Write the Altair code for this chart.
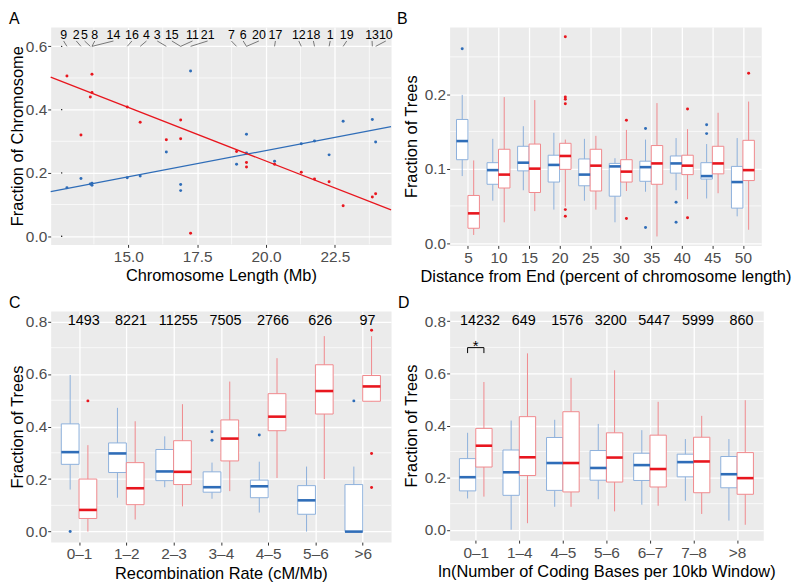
import json
import altair as alt
import pandas as pd

FONT = "Liberation Sans"
BLUE, RED = "#2F6DB8", "#E8161E"
BLUE_L, RED_L = "#8DB0DC", "#F0898D"
SERIES = ["Topology 1", "Topology 2"]
DODGE = 0.1875
HALF = 0.1875

# ---------------- Panel A data ----------------
chrom = ["9", "2", "5", "8", "14", "16", "4", "3", "15", "11", "21",
         "7", "6", "20", "17", "12", "18", "1", "19", "13", "10"]
chrom_len_mb = [12.77, 13.28, 13.62, 13.68, 13.68, 14.96, 15.43, 16.38, 16.90, 16.90, 17.26,
                18.93, 19.29, 19.29, 20.31, 21.28, 21.76, 22.29, 22.80, 23.86, 23.98]
label_pos_mb = [12.65, 13.11, 13.41, 13.78, 14.46, 15.13, 15.66, 16.05, 16.58, 17.33, 17.88,
                18.74, 19.17, 19.74, 20.34, 21.19, 21.72, 22.33, 22.93, 23.85, 24.35]
frac_blue = [0.153, 0.182, 0.165, 0.167, 0.161, 0.185, 0.190, 0.266, 0.163, 0.144, 0.522,
             0.227, 0.322, 0.263, 0.237, 0.292, 0.301, 0.257, 0.363, 0.369, 0.298]
frac_red = [0.506, 0.320, 0.440, 0.512, 0.454, 0.408, 0.360, 0.305, 0.367, 0.308, 0.009,
            0.268, 0.233, 0.219, 0.227, 0.202, 0.181, 0.172, 0.096, 0.124, 0.134]
# fitted trend lines (end points)
fit_len_mb = [12.18, 24.54]
fit_blue = [0.141, 0.346]
fit_red = [0.503, 0.083]
stray_x = [12.58, 12.58, 12.58, 12.58]
stray_y = [0.0, 0.2, 0.4, 0.6]

# ---------------- Panel B data ----------------
b_cats = ["5", "10", "15", "20", "25", "30", "35", "40", "45", "50"]
b_blue_lo = [0.090, 0.057, 0.071, 0.045, 0.057, 0.028, 0.069, 0.071, 0.060, 0.036]
b_blue_q1 = [0.112, 0.079, 0.097, 0.082, 0.077, 0.063, 0.083, 0.094, 0.086, 0.047]
b_blue_med = [0.137, 0.098, 0.108, 0.105, 0.092, 0.103, 0.102, 0.107, 0.090, 0.082]
b_blue_q3 = [0.166, 0.108, 0.130, 0.118, 0.113, 0.107, 0.110, 0.117, 0.108, 0.103]
b_blue_hi = [0.199, 0.140, 0.157, 0.148, 0.140, 0.114, 0.139, 0.141, 0.133, 0.141]
b_red_lo = [0.011, 0.028, 0.043, 0.049, 0.045, 0.070, 0.009, 0.059, 0.067, 0.018]
b_red_q1 = [0.020, 0.074, 0.068, 0.099, 0.070, 0.082, 0.079, 0.092, 0.093, 0.084]
b_red_med = [0.040, 0.092, 0.100, 0.117, 0.104, 0.096, 0.107, 0.104, 0.107, 0.098]
b_red_q3 = [0.064, 0.126, 0.133, 0.134, 0.126, 0.112, 0.131, 0.118, 0.130, 0.138]
b_red_hi = [0.111, 0.196, 0.192, 0.139, 0.144, 0.152, 0.188, 0.153, 0.175, 0.190]
b_out_blue = [("5", 0.261), ("35", 0.021), ("35", 0.154), ("40", 0.055), ("40", 0.028),
              ("45", 0.159), ("45", 0.147)]
b_out_red = [("20", 0.045), ("20", 0.036), ("20", 0.277), ("20", 0.196), ("20", 0.193),
             ("20", 0.187), ("30", 0.033), ("30", 0.165), ("40", 0.034), ("40", 0.180),
             ("50", 0.228)]

# ---------------- Panel C data ----------------
c_cats = ["0\u20131", "1\u20132", "2\u20133", "3\u20134", "4\u20135", "5\u20136", ">6"]
c_counts = ["1493", "8221", "11255", "7505", "2766", "626", "97"]
c_blue_lo = [0.160, 0.129, 0.169, 0.125, 0.0725, 0.0, 0.0]
c_blue_q1 = [0.256, 0.225, 0.194, 0.150, 0.129, 0.066, 0.0]
c_blue_med = [0.3025, 0.2975, 0.229, 0.169, 0.1725, 0.119, 0.0]
c_blue_q3 = [0.410, 0.3375, 0.3125, 0.2275, 0.196, 0.175, 0.179]
c_blue_hi = [0.596, 0.471, 0.3625, 0.2625, 0.266, 0.2475, 0.2475]
c_red_lo = [0.0, 0.046, 0.096, 0.154, 0.204, 0.200, 0.496]
c_red_q1 = [0.050, 0.1025, 0.179, 0.269, 0.384, 0.4475, 0.496]
c_red_med = [0.0825, 0.165, 0.2275, 0.354, 0.4375, 0.535, 0.5525]
c_red_q3 = [0.200, 0.2625, 0.346, 0.425, 0.525, 0.635, 0.594]
c_red_hi = [0.329, 0.420, 0.485, 0.571, 0.660, 0.744, 0.744]
c_out_blue = [("0\u20131", 0.0), ("3\u20134", 0.380), ("3\u20134", 0.3475), ("4\u20135", 0.3675),
              (">6", 0.4975)]
c_out_red = [("0\u20131", 0.4975), (">6", 0.766), (">6", 0.2975), (">6", 0.1675)]

# ---------------- Panel D data ----------------
d_cats = ["0\u20131", "1\u20134", "4\u20135", "5\u20136", "6\u20137", "7\u20138", ">8"]
d_counts = ["14232", "649", "1576", "3200", "5447", "5999", "860"]
d_blue_lo = [0.120, 0.0, 0.088, 0.117, 0.096, 0.111, 0.035]
d_blue_q1 = [0.149, 0.132, 0.151, 0.190, 0.189, 0.203, 0.161]
d_blue_med = [0.2016, 0.2205, 0.256, 0.237, 0.248, 0.2595, 0.213]
d_blue_q3 = [0.273, 0.306, 0.354, 0.304, 0.2935, 0.290, 0.281]
d_blue_hi = [0.372, 0.419, 0.422, 0.406, 0.382, 0.348, 0.348]
d_red_lo = [0.127, 0.025, 0.088, 0.0705, 0.092, 0.0605, 0.019]
d_red_q1 = [0.2406, 0.208, 0.145, 0.183, 0.164, 0.142, 0.136]
d_red_med = [0.3225, 0.278, 0.256, 0.277, 0.233, 0.262, 0.198]
d_red_q3 = [0.389, 0.434, 0.453, 0.372, 0.363, 0.355, 0.296]
d_red_hi = [0.567, 0.677, 0.583, 0.612, 0.491, 0.437, 0.497]
d_signif_cat = "0\u20131"

color_enc = alt.Color("series:N", scale=alt.Scale(domain=SERIES, range=[BLUE, RED]), legend=None)
stroke_enc = alt.Stroke("series:N", scale=alt.Scale(domain=SERIES, range=[BLUE_L, RED_L]), legend=None)


def letter_title(letter, dx):
    return alt.TitleParams(letter, anchor="start", frame="group", dx=dx, offset=0, fontSize=16,
                           fontWeight="normal", font=FONT, color="black")


# ---------------- Panel A ----------------
rowsA = []
for i, c in enumerate(chrom):
    rowsA.append(dict(chrom=c, length=chrom_len_mb[i], series=SERIES[0], frac=frac_blue[i]))
    rowsA.append(dict(chrom=c, length=chrom_len_mb[i], series=SERIES[1], frac=frac_red[i]))
dfA = pd.DataFrame(rowsA)
rowsFit = []
for i, x in enumerate(fit_len_mb):
    rowsFit.append(dict(length=x, series=SERIES[0], frac=fit_blue[i]))
    rowsFit.append(dict(length=x, series=SERIES[1], frac=fit_red[i]))
dfFit = pd.DataFrame(rowsFit)
dfLab = pd.DataFrame({"chrom": chrom, "label_x": label_pos_mb, "length": chrom_len_mb})
dfStray = pd.DataFrame({"sx": stray_x, "sy": stray_y})

xA = alt.Scale(domain=[12.18, 24.54], nice=False, zero=False)
yA = alt.Scale(domain=[-0.026, 0.661], nice=False, zero=False)
axA_x = alt.Axis(title="Chromosome Length (Mb)", values=[15, 17.5, 20, 22.5], format=".1f", grid=True)
axA_y = alt.Axis(title="Fraction of Chromosome", values=[0, 0.2, 0.4, 0.6], format=".1f", grid=True,
                 titlePadding=0, labelPadding=1)


def XA(f):
    return alt.X(f, scale=xA, axis=axA_x)


def YA(f):
    return alt.Y(f, scale=yA, axis=axA_y)


gridA_x = alt.Chart(pd.DataFrame({"g": [13.75, 16.25, 18.75, 21.25, 23.75]})).mark_rule(
    color="white", strokeWidth=0.7).encode(x=XA("g:Q"))
gridA_y = alt.Chart(pd.DataFrame({"g": [0.1, 0.3, 0.5]})).mark_rule(
    color="white", strokeWidth=0.7).encode(y=YA("g:Q"))
ptsA = alt.Chart(dfA).mark_circle(size=9, opacity=1).encode(
    x=XA("length:Q"), y=YA("frac:Q"), color=color_enc)
fitA = alt.Chart(dfFit).mark_line(strokeWidth=1.3).encode(
    x=XA("length:Q"), y=YA("frac:Q"), color=color_enc, detail="series:N")
labA = alt.Chart(dfLab).mark_text(fontSize=12.5, font=FONT, color="black", baseline="middle").encode(
    x=XA("label_x:Q"), y=alt.YDatum(0.637, scale=yA, axis=axA_y), text="chrom:N")
segA = alt.Chart(dfLab).mark_rule(color="#444444", strokeWidth=0.7).encode(
    x=XA("label_x:Q"), x2="length:Q",
    y=alt.YDatum(0.617, scale=yA, axis=axA_y), y2=alt.datum(0.600))
strayA = alt.Chart(dfStray).mark_circle(size=2, color="black", opacity=1).encode(
    x=XA("sx:Q"), y=YA("sy:Q"))

panelA = alt.layer(
    gridA_x, gridA_y, ptsA, fitA, segA, labA, strayA
).properties(width=343, height=219, title=letter_title("A", -42))


# ---------------- Box panels ----------------
def box_panel(cats, blue, red, out_blue, out_red, ydom, ymajor, yminor, xtitle, ytitle,
              w, h, letter, letter_dx, ytp, counts=None, signif_cat=None):
    n = len(cats)
    rows = []
    for s, stats, off in ((SERIES[0], blue, -DODGE), (SERIES[1], red, DODGE)):
        lo, q1, med, q3, hi = stats
        for i in range(n):
            c = i + 1 + off
            rows.append(dict(series=s, center=c, left=c - HALF, right=c + HALF,
                             lo=lo[i], q1=q1[i], med=med[i], q3=q3[i], hi=hi[i]))
    box = pd.DataFrame(rows)
    orows = []
    for s, outs, off in ((SERIES[0], out_blue, -DODGE), (SERIES[1], out_red, DODGE)):
        for cat, v in outs:
            orows.append(dict(series=s, center=cats.index(cat) + 1 + off, v=v))
    outl = pd.DataFrame(orows)

    xs = alt.Scale(domain=[0.4, n + 0.6], nice=False, zero=False)
    ys = alt.Scale(domain=ydom, nice=False, zero=False)
    xax = alt.Axis(title=xtitle, values=list(range(1, n + 1)),
                   labelExpr=json.dumps(cats, ensure_ascii=False) + "[datum.value - 1]", grid=True)
    yax = alt.Axis(title=ytitle, values=ymajor, format=".1f", grid=True, titlePadding=ytp,
                   labelPadding=1)

    def X(f):
        return alt.X(f, scale=xs, axis=xax)

    def Y(f):
        return alt.Y(f, scale=ys, axis=yax)

    base = alt.Chart(box)
    grid = alt.Chart(pd.DataFrame({"g": yminor})).mark_rule(
        color="white", strokeWidth=0.7).encode(y=Y("g:Q"))
    whisk = base.mark_rule(strokeWidth=1).encode(
        x=X("center:Q"), y=Y("lo:Q"), y2="hi:Q", stroke=stroke_enc)
    boxes = base.mark_rect(fill="white", strokeWidth=1).encode(
        x=X("left:Q"), x2="right:Q", y=Y("q1:Q"), y2="q3:Q", stroke=stroke_enc)
    meds = base.mark_rule(strokeWidth=2.6).encode(
        x=X("left:Q"), x2="right:Q", y=Y("med:Q"), color=color_enc)
    layers = [grid, whisk, boxes, meds]
    if len(outl):
        layers.append(alt.Chart(outl).mark_circle(size=9, opacity=1).encode(
            x=X("center:Q"), y=Y("v:Q"), color=color_enc))
    if counts is not None:
        dfc = pd.DataFrame({"pos": [i + 1.1 for i in range(n)], "n": counts})
        layers.append(alt.Chart(dfc).mark_text(fontSize=14.5, font=FONT, color="black",
                                               baseline="middle").encode(
            x=X("pos:Q"), y=alt.YDatum(0.8, scale=ys, axis=yax), text="n:N"))
    if signif_cat is not None:
        k = cats.index(signif_cat) + 1
        dfb = pd.DataFrame({"bx": [k - DODGE, k - DODGE, k + DODGE],
                            "bx2": [k + DODGE, k - DODGE, k + DODGE],
                            "by": [0.699, 0.699, 0.699],
                            "by2": [0.699, 0.678, 0.678]})
        layers.append(alt.Chart(dfb).mark_rule(color="black", strokeWidth=1).encode(
            x=X("bx:Q"), x2="bx2:Q", y=Y("by:Q"), y2="by2:Q"))
        dfs = pd.DataFrame({"sx": [k], "s": ["*"]})
        layers.append(alt.Chart(dfs).mark_text(fontSize=15, font=FONT, color="black",
                                               baseline="middle").encode(
            x=X("sx:Q"), y=alt.YDatum(0.705, scale=ys, axis=yax), text="s:N"))
    return alt.layer(*layers).properties(width=w, height=h, title=letter_title(letter, letter_dx))


panelB = box_panel(
    b_cats,
    (b_blue_lo, b_blue_q1, b_blue_med, b_blue_q3, b_blue_hi),
    (b_red_lo, b_red_q1, b_red_med, b_red_q3, b_red_hi),
    b_out_blue, b_out_red, [-0.003, 0.290], [0, 0.1, 0.2], [0.05, 0.15, 0.25],
    "Distance from End (percent of chromosome length)", "Fraction of Trees",
    314, 220, "B", -53, 5)

panelC = box_panel(
    c_cats,
    (c_blue_lo, c_blue_q1, c_blue_med, c_blue_q3, c_blue_hi),
    (c_red_lo, c_red_q1, c_red_med, c_red_q3, c_red_hi),
    c_out_blue, c_out_red, [-0.04, 0.84], [0, 0.2, 0.4, 0.6, 0.8], [0.1, 0.3, 0.5, 0.7],
    "Recombination Rate (cM/Mb)", "Fraction of Trees",
    343, 233, "C", -42, 0, counts=c_counts)

panelD = box_panel(
    d_cats,
    (d_blue_lo, d_blue_q1, d_blue_med, d_blue_q3, d_blue_hi),
    (d_red_lo, d_red_q1, d_red_med, d_red_q3, d_red_hi),
    [], [], [-0.04, 0.84], [0, 0.2, 0.4, 0.6, 0.8], [0.1, 0.3, 0.5, 0.7],
    "ln(Number of Coding Bases per 10kb Window)", "Fraction of Trees",
    316, 231, "D", -52, 5, counts=d_counts, signif_cat=d_signif_cat)

chart = alt.concat(
    panelA, panelB, panelC, panelD, columns=2,
    spacing={"row": 66, "column": 59}, bounds="flush", align="each"
).properties(padding=0).configure_view(
    fill="#EBEBEB", stroke="transparent"
).configure_axis(
    domain=False, tickColor="#333333", tickSize=3, tickWidth=1,
    labelColor="#4D4D4D", labelFontSize=15.5, labelFont=FONT, labelPadding=2,
    titleFont=FONT, titleFontSize=16.5, titleFontWeight="normal", titleColor="black",
    gridColor="white", gridWidth=1.3
).configure_axisX(titlePadding=3)

chart.save("out.html", embed_options={"renderer": "svg", "actions": False})
